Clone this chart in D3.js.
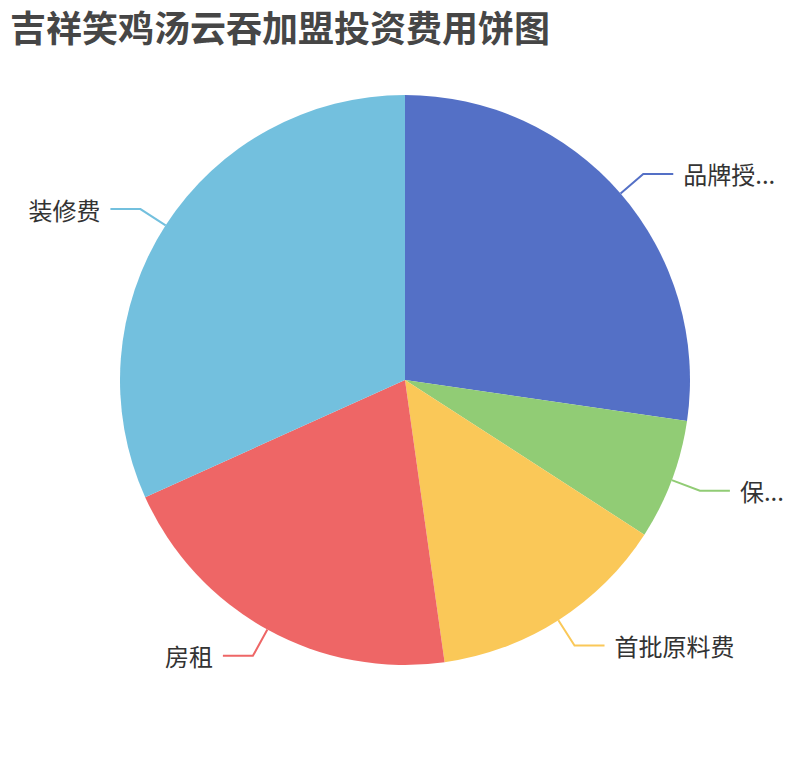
<!DOCTYPE html>
<html>
<head>
<meta charset="utf-8">
<script src="https://cdn.jsdelivr.net/npm/d3@7"></script>
<style>
  body { margin: 0; background: #fff; }
  #chart { width: 810px; height: 760px; }
  text { font-family: "Noto Sans CJK SC", "Noto Sans", sans-serif; }
</style>
</head>
<body>
<div id="chart"></div>
<script>
const categories = ["品牌授权费", "保证金", "首批原料费", "房租", "装修费"];
const amounts = [40000, 10000, 20000, 30000, 46500];
const palette = ["#5470c6", "#91cc75", "#fac858", "#ee6666", "#73c0de"];
const chartTitle = "吉祥笑鸡汤云吞加盟投资费用饼图";

const width = 810;
const height = 760;
const cx = width / 2;
const cy = 380;
const radius = Math.min(width, height) / 2 * 0.75;
const len1 = 30, len2 = 30;

const svg = d3.select("#chart")
    .append("svg")
    .attr("width", width)
    .attr("height", height);

svg.append("text")
    .attr("x", 10)
    .attr("y", 26)
    .attr("dominant-baseline", "central")
    .attr("font-size", 36)
    .attr("font-weight", "bold")
    .attr("fill", "#464646")
    .text(chartTitle);

const rows = categories.map((c, i) => ({ name: c, value: amounts[i] }));

const color = d3.scaleOrdinal()
    .domain(categories)
    .range(palette);

const pie = d3.pie()
    .sort(null)
    .value(d => d.value);

const arc = d3.arc()
    .innerRadius(0)
    .outerRadius(radius);

const pieData = pie(rows);

const g = svg.append("g")
    .attr("transform", "translate(" + cx + "," + cy + ")");

g.selectAll("path.slice")
    .data(pieData)
    .join("path")
    .attr("class", "slice")
    .attr("d", arc)
    .attr("fill", d => color(d.data.name));

// label lines + labels
const labels = g.selectAll("g.lbl")
    .data(pieData)
    .join("g")
    .attr("class", "lbl");

labels.each(function (d) {
    const mid = (d.startAngle + d.endAngle) / 2;
    const sx = Math.sin(mid), sy = -Math.cos(mid);
    const right = sx >= 0;
    const p0 = [sx * radius, sy * radius];
    const p1 = [sx * (radius + len1), sy * (radius + len1)];
    const p2 = [p1[0] + (right ? len2 : -len2), p1[1]];
    const sel = d3.select(this);

    sel.append("polyline")
        .attr("points", [p0, p1, p2].map(p => p.join(",")).join(" "))
        .attr("fill", "none")
        .attr("stroke", color(d.data.name))
        .attr("stroke-width", 2);

    const tx = p2[0] + (right ? 10 : -10);
    const t = sel.append("text")
        .attr("x", tx)
        .attr("y", p2[1])
        .attr("dominant-baseline", "central")
        .attr("text-anchor", right ? "start" : "end")
        .attr("font-size", 24)
        .attr("fill", "#333")
        .text(d.data.name);

    // truncate like echarts when the label runs past the edge
    const maxW = right ? (width / 2 - 20 - tx) : (tx + width / 2 - 20);
    let name = d.data.name;
    if (t.node().getComputedTextLength() > maxW) {
        while (name.length > 1) {
            name = name.slice(0, -1);
            t.text(name + "...");
            if (t.node().getComputedTextLength() <= maxW) break;
        }
    }
});
</script>
</body>
</html>
